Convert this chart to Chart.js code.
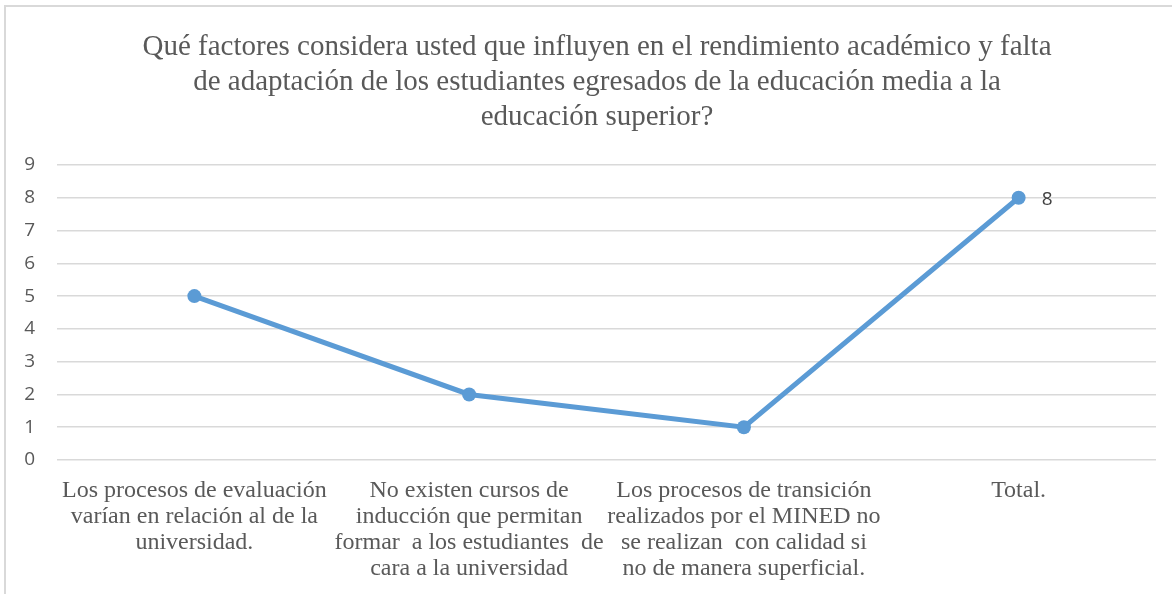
<!DOCTYPE html>
<html>
<head>
<meta charset="utf-8">
<script src="https://cdn.jsdelivr.net/npm/chart.js@4/dist/chart.umd.min.js"></script>
<style>
  html, body { margin: 0; padding: 0; background: #ffffff; }
  #wrap { position: relative; width: 1172px; height: 594px; overflow: hidden; }
  #frame { position: absolute; left: 4px; top: 5px; width: 1200px; height: 620px;
           border-left: 2px solid #d9d9d9; border-top: 2px solid #d9d9d9; box-sizing: border-box; }
  #c { position: absolute; left: 0; top: 0; }
</style>
</head>
<body>
<div id="wrap">
  <div id="frame"></div>
  <canvas id="c" width="1172" height="594"></canvas>
</div>
<script>
const titleLines = [
  'Qué factores considera usted que influyen en el rendimiento académico y falta',
  'de adaptación de los estudiantes egresados de la educación media a la',
  'educación superior?'
];
const categories = [
  ['Los procesos de evaluación', 'varían en relación al de la', 'universidad.'],
  ['No existen cursos de', 'inducción que permitan', 'formar  a los estudiantes  de', 'cara a la universidad'],
  ['Los procesos de transición', 'realizados por el MINED no', 'se realizan  con calidad si', 'no de manera superficial.'],
  ['Total.']
];
const values = [5, 2, 1, 8];
const yTicks = [0, 1, 2, 3, 4, 5, 6, 7, 8, 9];
const labelledIndex = [3];

const lastLabel = {
  id: 'lastLabel',
  afterDatasetsDraw(chart) {
    const ctx = chart.ctx;
    const meta = chart.getDatasetMeta(0);
    ctx.save();
    ctx.font = '19px "Open Sans", sans-serif';
    ctx.fillStyle = '#404040';
    ctx.textAlign = 'left';
    ctx.textBaseline = 'middle';
    labelledIndex.forEach(i => {
      const p = meta.data[i];
      ctx.fillText(String(values[i]), p.x + 23, p.y + 2);
    });
    ctx.restore();
  }
};

new Chart(document.getElementById('c'), {
  type: 'line',
  data: {
    labels: categories,
    datasets: [{
      data: values,
      yAxisID: 'y',
      borderColor: '#5b9bd5',
      backgroundColor: '#5b9bd5',
      borderWidth: 5,
      pointRadius: 7,
      pointHoverRadius: 7,
      pointBackgroundColor: '#5b9bd5',
      pointBorderColor: '#5b9bd5',
      pointBorderWidth: 0,
      tension: 0,
      fill: false
    }]
  },
  options: {
    responsive: false,
    animation: false,
    events: [],
    layout: { padding: { left: 22, right: 0, top: 0, bottom: 0 } },
    plugins: {
      legend: { display: false },
      tooltip: { enabled: false },
      title: {
        display: true,
        text: titleLines,
        color: '#595959',
        font: { family: '"Liberation Serif", "Times New Roman", serif', size: 29, weight: 'normal', lineHeight: 35/29 },
        padding: { top: 30, bottom: 30 }
      }
    },
    scales: {
      x: {
        offset: true,
        grid: { display: false, drawTicks: false },
        border: { display: false },
        ticks: {
          color: '#595959',
          font: { family: '"Liberation Serif", "Times New Roman", serif', size: 24, lineHeight: 26/24 },
          padding: 18,
          maxRotation: 0,
          minRotation: 0,
          autoSkip: false
        },
        afterFit(scale) { scale.height = 134; }
      },
      y: {
        position: 'left',
        min: 0,
        max: 9,
        afterBuildTicks(scale) { scale.ticks = yTicks.map(v => ({ value: v })); },
        grid: { color: '#d9d9d9', lineWidth: 1.5, drawTicks: false },
        border: { display: false },
        ticks: {
          color: '#595959',
          font: { family: '"Open Sans", sans-serif', size: 19 },
          padding: 22
        },
        afterFit(scale) { scale.width = 35; }
      },
      yRight: {
        position: 'right',
        display: true,
        grid: { display: false, drawTicks: false },
        border: { display: false },
        ticks: { display: false },
        afterFit(scale) { scale.width = 16; }
      }
    }
  },
  plugins: [lastLabel]
});
</script>
</body>
</html>
